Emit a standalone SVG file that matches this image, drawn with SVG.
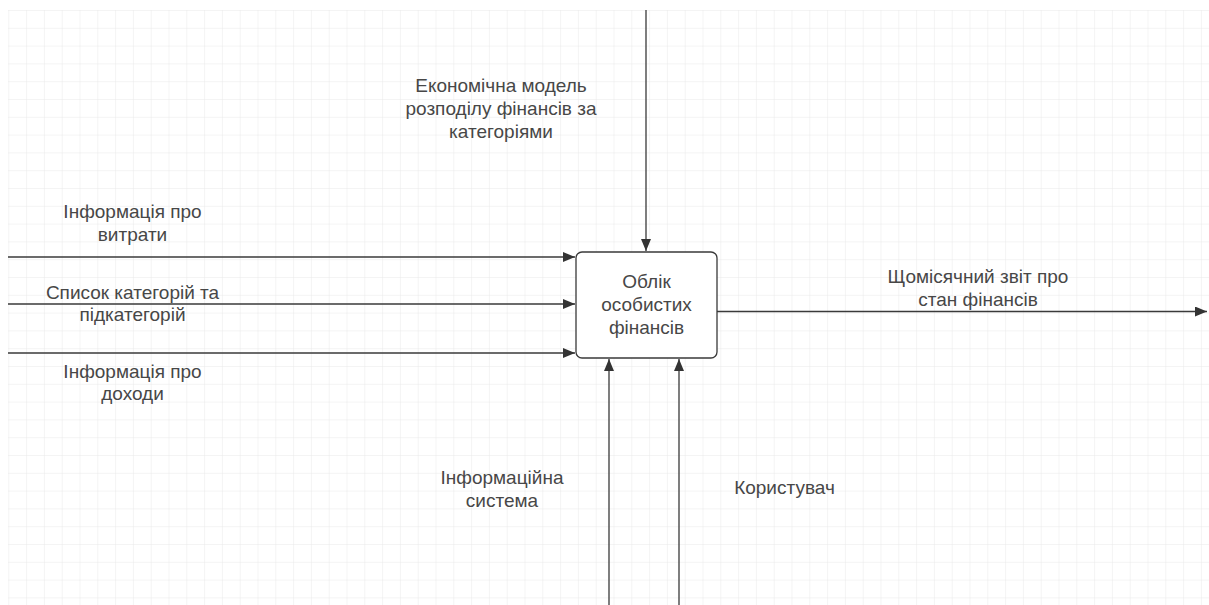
<svg xmlns="http://www.w3.org/2000/svg" width="1209" height="605" viewBox="0 0 1209 605">
  <defs>
    <pattern id="grid" x="8.3" y="10" width="17.8" height="17.8" patternUnits="userSpaceOnUse">
      <path d="M0 0 H17.8 M0 0 V17.8" fill="none" stroke="#e9e9e9" stroke-width="1"/>
    </pattern>
    <marker id="arrow" viewBox="0 0 12 10" refX="12" refY="5" markerWidth="12" markerHeight="10" markerUnits="userSpaceOnUse" orient="auto">
      <path d="M0 0 L12 5 L0 10 Z" fill="#333"/>
    </marker>
    <style>
      .lbl { font-family: "Liberation Sans", Arial, sans-serif; font-size: 19px; fill: #474747; text-anchor: middle; }
      .edge { fill: none; stroke: #3a3a3a; stroke-width: 1.3; marker-end: url(#arrow); }
    </style>
  </defs>

  <rect width="1209" height="605" fill="#ffffff"/>
  <rect x="8" y="10" width="1201" height="595" fill="url(#grid)"/>

  <!-- connectors -->
  <g id="connectors">
    <path class="edge" d="M646 10 V251"/>
    <path class="edge" d="M8 257 H575"/>
    <path class="edge" d="M8 304 H575"/>
    <path class="edge" d="M8 353 H575"/>
    <path class="edge" d="M609 605 V359"/>
    <path class="edge" d="M679 605 V359"/>
    <path class="edge" d="M717 311.5 H1207"/>
  </g>

  <!-- labels of connectors -->
  <g id="label-control">
    <text class="lbl" x="501" y="92">Економічна модель</text>
    <text class="lbl" x="501" y="115">розподілу фінансів за</text>
    <text class="lbl" x="501" y="138">категоріями</text>
  </g>
  <g id="label-expenses">
    <text class="lbl" x="132.5" y="218">Інформація про</text>
    <text class="lbl" x="132.5" y="241">витрати</text>
  </g>
  <g id="label-categories">
    <text class="lbl" x="132.5" y="299">Список категорій та</text>
    <text class="lbl" x="132.5" y="321">підкатегорій</text>
  </g>
  <g id="label-income">
    <text class="lbl" x="132.5" y="378">Інформація про</text>
    <text class="lbl" x="132.5" y="400">доходи</text>
  </g>
  <g id="label-system">
    <text class="lbl" x="502" y="484">Інформаційна</text>
    <text class="lbl" x="502" y="507">система</text>
  </g>
  <g id="label-user">
    <text class="lbl" x="784.5" y="494">Користувач</text>
  </g>
  <g id="label-report">
    <text class="lbl" x="978" y="283">Щомісячний звіт про</text>
    <text class="lbl" x="978" y="306">стан фінансів</text>
  </g>

  <!-- main activity -->
  <g id="node-activity">
    <rect x="576" y="252" width="141" height="106" rx="6" fill="#ffffff" stroke="#3a3a3a" stroke-width="1.3"/>
    <text class="lbl" x="646.5" y="288">Облік</text>
    <text class="lbl" x="646.5" y="311">особистих</text>
    <text class="lbl" x="646.5" y="334">фінансів</text>
  </g>
</svg>
